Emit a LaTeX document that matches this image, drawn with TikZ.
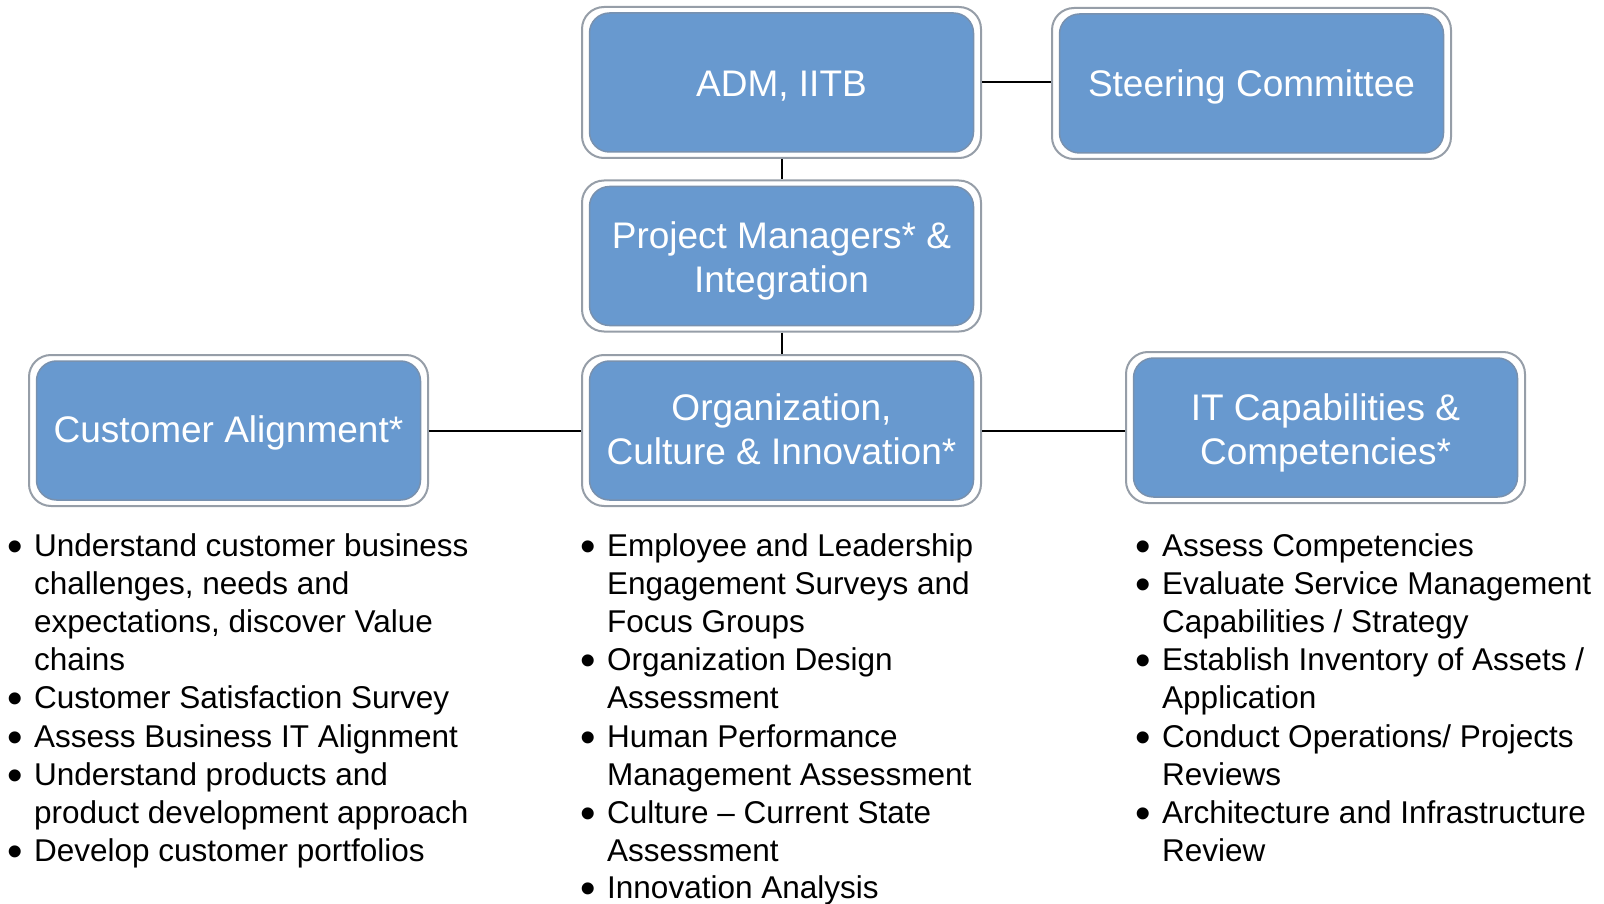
\documentclass[tikz,border=0pt]{standalone}
\usepackage{fontspec}
\usepackage{graphicx}
\setmainfont{Liberation Sans}
\definecolor{boxblue}{RGB}{104,153,207}
\definecolor{innerline}{RGB}{120,145,175}
\definecolor{outerline}{RGB}{150,158,168}
\newcommand\bitem[4]{%
  \node[item] (#1) at (#2,#3) {#4};
  \node[item, anchor=base east, xshift=-11pt] (#1-b) at (#1.base west)
    {\smash{\raisebox{-5pt}{\scalebox{1.4}{\textbullet}}}};}
\newcommand\contline[4]{\node[item] (#1) at (#2,#3) {#4};}
\begin{document}
\begin{tikzpicture}[x=1pt,y=-1pt,
  frame/.style={draw=outerline, line width=2pt, fill=white, rounded corners=22pt,
    minimum width=399pt, minimum height=151pt, inner sep=0pt},
  card/.style={draw=innerline, line width=1.5pt, fill=boxblue, rounded corners=20pt,
    minimum width=384pt, minimum height=139pt, inner sep=0pt},
  cardtext/.style={text=white, align=center, inner sep=0pt,
    font=\fontsize{37}{44}\selectfont},
  link/.style={draw=black, line width=2pt},
  item/.style={anchor=base west, inner sep=0pt, font=\fontsize{31.5}{38}\selectfont},
]
\useasboundingbox (0,0) rectangle (1604,904);

\node[frame] (adm) at (781.5,82.5) {};
\node[card] (admc) at (adm.center) {};
\node[cardtext, yshift=-4pt] (admt) at (adm.center) {ADM, IITB};

\node[frame] (steer) at (1251.5,83.5) {};
\node[card] (steerc) at (steer.center) {};
\node[cardtext, yshift=-3pt] (steert) at (steer.center) {Steering Committee};

\node[frame] (pm) at (781.5,256) {};
\node[card] (pmc) at (pm.center) {};
\node[cardtext, yshift=-4.5pt] (pmt) at (pm.center) {Project Managers* \&\\Integration};

\node[frame] (org) at (781.5,430.5) {};
\node[card] (orgc) at (org.center) {};
\node[cardtext, yshift=1pt] (orgt) at (org.center) {Organization,\\Culture \& Innovation*};

\node[frame] (cust) at (228.5,430.5) {};
\node[card] (custc) at (cust.center) {};
\node[cardtext, yshift=-2pt] (custt) at (cust.center) {Customer Alignment*};

\node[frame] (it) at (1325.5,427.5) {};
\node[card] (itc) at (it.center) {};
\node[cardtext, yshift=-5pt] (itt) at (it.center) {IT Capabilities \&\\Competencies*};

\draw[link] (adm.east) -- (adm.east -| steer.west);
\draw[link] (adm.south) -- (pm.north);
\draw[link] (pm.south) -- (org.north);
\draw[link] (cust.east) -- (org.west);
\draw[link] (org.east) -- (org.east -| it.west);

% left column
\bitem{l0}{34}{556}{Understand customer business}
\contline{l1}{34}{594.2}{challenges, needs and}
\contline{l2}{34}{632.4}{expectations, discover Value}
\contline{l3}{34}{670.6}{chains}
\bitem{l4}{34}{708.8}{Customer Satisfaction Survey}
\bitem{l5}{34}{747}{Assess Business IT Alignment}
\bitem{l6}{34}{785.2}{Understand products and}
\contline{l7}{34}{823.4}{product development approach}
\bitem{l8}{34}{861.6}{Develop customer portfolios}

% middle column
\bitem{m0}{607}{556}{Employee and Leadership}
\contline{m1}{607}{594.2}{Engagement Surveys and}
\contline{m2}{607}{632.4}{Focus Groups}
\bitem{m3}{607}{670.6}{Organization Design}
\contline{m4}{607}{708.8}{Assessment}
\bitem{m5}{607}{747}{Human Performance}
\contline{m6}{607}{785.2}{Management Assessment}
\bitem{m7}{607}{823.4}{Culture – Current State}
\contline{m8}{607}{861.6}{Assessment}
\bitem{m9}{607}{898.5}{Innovation Analysis}

% right column
\bitem{r0}{1162}{556}{Assess Competencies}
\bitem{r1}{1162}{594.2}{Evaluate Service Management}
\contline{r2}{1162}{632.4}{Capabilities / Strategy}
\bitem{r3}{1162}{670.6}{Establish Inventory of Assets /}
\contline{r4}{1162}{708.8}{Application}
\bitem{r5}{1162}{747}{Conduct Operations/ Projects}
\contline{r6}{1162}{785.2}{Reviews}
\bitem{r7}{1162}{823.4}{Architecture and Infrastructure}
\contline{r8}{1162}{861.6}{Review}
\end{tikzpicture}
\end{document}
